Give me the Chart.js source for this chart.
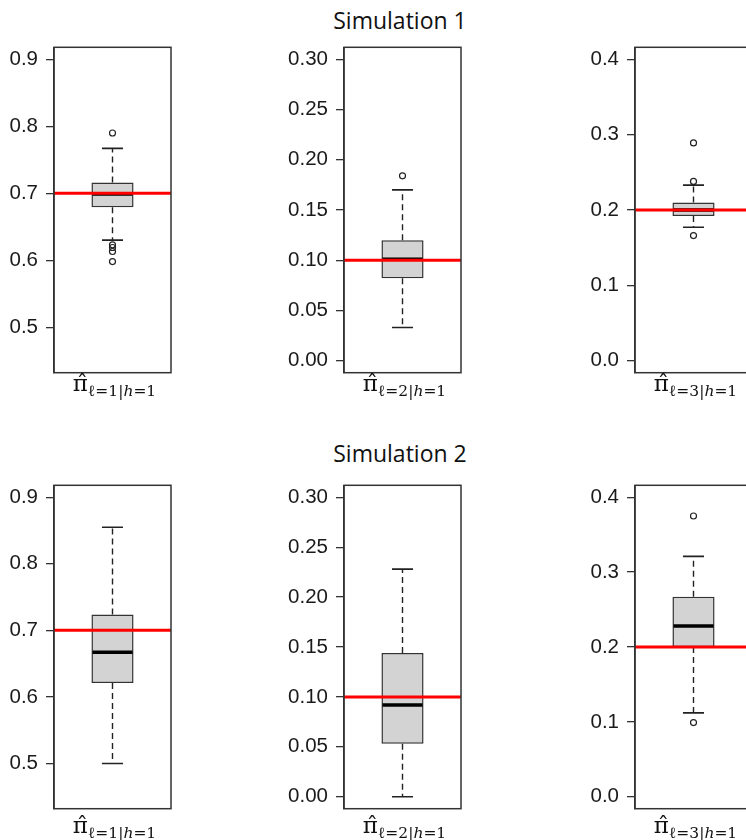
<!DOCTYPE html>
<html>
<head>
<meta charset="utf-8">
<script src="https://cdn.jsdelivr.net/npm/chart.js@4.4.0/dist/chart.umd.min.js"></script>
<style>
  html, body { margin: 0; padding: 0; background: #fff; }
  body { width: 746px; height: 840px; overflow: hidden; position: relative; }
  .title { position: absolute; left: 0; width: 800px; text-align: center;
           font-family: "Open Sans", "Noto Sans", sans-serif; font-size: 23px; color: #111; }
  .panel { position: absolute; }
  .xlab { position: absolute; width: 140px; text-align: center; white-space: nowrap;
          font-family: "DejaVu Serif", "Liberation Serif", serif; color: #111; }
  .xlab .pi { font-size: 23px; }
  .xlab sub { font-size: 15.5px; vertical-align: -5px; }
</style>
</head>
<body>
<div class="title" style="top:4px">Simulation 1</div>
<div class="title" style="top:437px">Simulation 2</div>
<script>
// parameters (columns): pi_{l=1|h=1}, pi_{l=2|h=1}, pi_{l=3|h=1}
const categories = ['ℓ=1|h=1', 'ℓ=2|h=1', 'ℓ=3|h=1'];
const trueValues = [0.7, 0.1, 0.2];
const yLimits = [[0.45, 0.9], [0, 0.3], [0, 0.4]];
const yTicks = [
  [0.5, 0.6, 0.7, 0.8, 0.9],
  [0, 0.05, 0.10, 0.15, 0.20, 0.25, 0.30],
  [0, 0.1, 0.2, 0.3, 0.4]
];
const tickDecimals = [1, 2, 1];

// Simulation 1
const sim1Low = [0.630, 0.033, 0.177];
const sim1Q1 = [0.679, 0.082, 0.192];
const sim1Median = [0.699, 0.101, 0.200];
const sim1Q3 = [0.716, 0.120, 0.210];
const sim1High = [0.767, 0.170, 0.233];
const sim1Outliers = [[0.790, 0.623, 0.619, 0.613, 0.598], [0.184], [0.289, 0.238, 0.166]];

// Simulation 2
const sim2Low = [0.500, 0.000, 0.112];
const sim2Q1 = [0.621, 0.053, 0.200];
const sim2Median = [0.667, 0.092, 0.228];
const sim2Q3 = [0.724, 0.144, 0.267];
const sim2High = [0.855, 0.228, 0.321];
const sim2Outliers = [[], [], [0.375, 0.099]];

const sims = [
  { low: sim1Low, q1: sim1Q1, med: sim1Median, q3: sim1Q3, high: sim1High, out: sim1Outliers },
  { low: sim2Low, q1: sim2Q1, med: sim2Median, q3: sim2Q3, high: sim2High, out: sim2Outliers }
];

// layout of the plot regions
const areaLeft = [54, 344, 635];
const areaTop = [47, 485];
const areaHeight = [326, 324];
const areaWidth = 117;
const axisWidth = [54, 66, 56];
const padRight = 12;
const labelTop = [370, 812];

// whiskers, median, true-value line and frame (drawn with the chart's scales)
const boxExtras = {
  id: 'boxExtras',
  beforeDatasetsDraw(chart) {
    const s = chart.options.plugins.boxExtras;
    const y = chart.scales.y;
    const bar = chart.getDatasetMeta(0).data[0];
    const ctx = chart.ctx;
    const cap = bar.width / 4;
    ctx.save();
    ctx.strokeStyle = '#222';
    ctx.lineWidth = 1.4;
    ctx.setLineDash([6, 4]);
    ctx.beginPath();
    ctx.moveTo(bar.x, y.getPixelForValue(s.q3));
    ctx.lineTo(bar.x, y.getPixelForValue(s.high));
    ctx.moveTo(bar.x, y.getPixelForValue(s.q1));
    ctx.lineTo(bar.x, y.getPixelForValue(s.low));
    ctx.stroke();
    ctx.setLineDash([]);
    ctx.lineWidth = 1.6;
    ctx.beginPath();
    [s.high, s.low].forEach(v => {
      const py = y.getPixelForValue(v);
      ctx.moveTo(bar.x - cap, py);
      ctx.lineTo(bar.x + cap, py);
    });
    ctx.stroke();
    ctx.restore();
  },
  afterDatasetsDraw(chart) {
    const s = chart.options.plugins.boxExtras;
    const y = chart.scales.y;
    const area = chart.chartArea;
    const bar = chart.getDatasetMeta(0).data[0];
    const ctx = chart.ctx;
    ctx.save();
    // median
    ctx.strokeStyle = '#000';
    ctx.lineWidth = 3.5;
    ctx.beginPath();
    const pm = y.getPixelForValue(s.med);
    ctx.moveTo(bar.x - bar.width / 2 + 1, pm);
    ctx.lineTo(bar.x + bar.width / 2 - 1, pm);
    ctx.stroke();
    // true value
    ctx.strokeStyle = '#ff0000';
    ctx.lineWidth = 3;
    ctx.beginPath();
    const pt = y.getPixelForValue(s.truth);
    ctx.moveTo(area.left, pt);
    ctx.lineTo(area.right, pt);
    ctx.stroke();
    // frame
    ctx.strokeStyle = '#333';
    ctx.lineWidth = 1.5;
    ctx.strokeRect(area.left, area.top, area.right - area.left, area.bottom - area.top);
    ctx.restore();
  }
};

function makePanel(row, col) {
  const s = sims[row];
  const lo = yLimits[col][0], hi = yLimits[col][1];
  const ext = 0.04 * (hi - lo);
  const aw = axisWidth[col];

  const canvas = document.createElement('canvas');
  const w = aw + areaWidth + padRight;
  let h = areaHeight[row] + 40;
  canvas.width = w;
  canvas.height = h;
  canvas.className = 'panel';
  canvas.style.left = (areaLeft[col] - aw) + 'px';
  document.body.appendChild(canvas);

  const chart = new Chart(canvas.getContext('2d'), {
    type: 'bar',
    data: {
      labels: [categories[col]],
      datasets: [
        {
          type: 'bar',
          data: [[s.q1[col], s.q3[col]]],
          backgroundColor: '#d3d3d3',
          borderColor: '#333',
          borderWidth: 1.5,
          borderSkipped: false,
          barPercentage: 0.36,
          categoryPercentage: 1
        },
        {
          type: 'scatter',
          data: s.out[col].map(v => ({ x: 0, y: v })),
          pointStyle: 'circle',
          pointRadius: 3,
          backgroundColor: 'rgba(0,0,0,0)',
          borderColor: '#222',
          borderWidth: 1.2
        }
      ]
    },
    options: {
      responsive: false,
      animation: false,
      layout: { padding: { top: 0, bottom: 0, left: 0, right: padRight } },
      plugins: {
        legend: { display: false },
        tooltip: { enabled: false },
        boxExtras: {
          low: s.low[col], q1: s.q1[col], med: s.med[col], q3: s.q3[col],
          high: s.high[col], truth: trueValues[col]
        }
      },
      scales: {
        x: { display: false },
        y: {
          min: lo - ext,
          max: hi + ext,
          afterFit(scale) { scale.width = aw; },
          afterBuildTicks(scale) { scale.ticks = yTicks[col].map(v => ({ value: v })); },
          border: { display: true, color: '#333', width: 1.5 },
          grid: { drawOnChartArea: false, drawTicks: true, tickLength: 8, color: '#333', lineWidth: 1.3 },
          ticks: {
            padding: 8,
            color: '#1a1a1a',
            font: { family: '"Liberation Sans", Arial, sans-serif', size: 20.5 },
            callback: v => Number(v).toFixed(tickDecimals[col])
          }
        }
      }
    },
    plugins: [boxExtras]
  });

  // fit the canvas so the plot region lands where the reference has it
  const overhead = h - (chart.chartArea.bottom - chart.chartArea.top);
  h = areaHeight[row] + overhead;
  chart.resize(w, h);
  canvas.style.top = (areaTop[row] - chart.chartArea.top) + 'px';

  // axis label under the box: pi-hat with subscript
  const lab = document.createElement('div');
  lab.className = 'xlab';
  lab.style.left = (areaLeft[col] + areaWidth / 2 - 68) + 'px';
  lab.style.top = labelTop[row] + 'px';
  const parts = categories[col].split('|');
  lab.innerHTML = '<span class="pi">\u03c0\u0302</span><sub>' + parts[0] + '|' +
    parts[1].replace('h', '<i>h</i>') + '</sub>';
  document.body.appendChild(lab);
}

for (let r = 0; r < 2; r++) {
  for (let c = 0; c < 3; c++) makePanel(r, c);
}
</script>
</body>
</html>
